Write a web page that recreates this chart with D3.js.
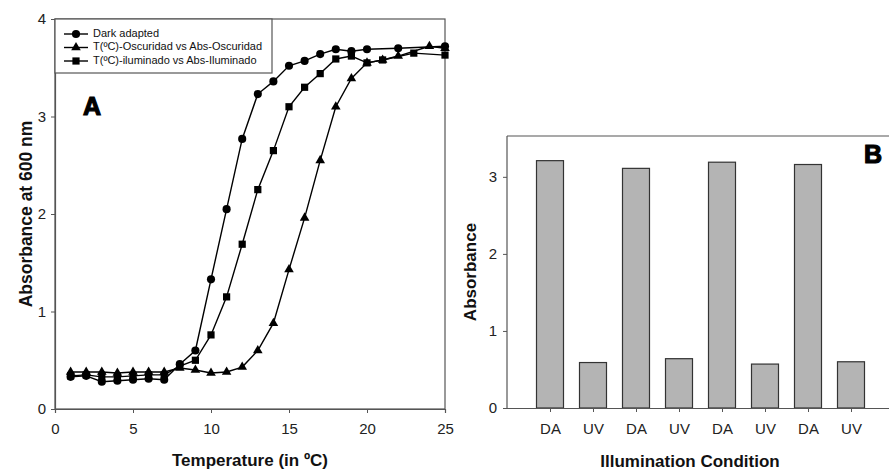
<!DOCTYPE html>
<html>
<head>
<meta charset="utf-8">
<script src="https://cdn.jsdelivr.net/npm/d3@7/dist/d3.min.js"></script>
<style>
  html, body { margin: 0; padding: 0; background: #fff; }
  svg { display: block; font-family: "Liberation Sans", Arial, sans-serif; }
</style>
</head>
<body>
<svg id="chart" width="889" height="470"></svg>
<script>
// ---------- Data: panel A ----------
const darkX = [1,2,3,4,5,6,7,8,9,10,11,12,13,14,15,16,17,18,19,20,22,25];
const darkY = [0.33,0.34,0.28,0.29,0.30,0.31,0.30,0.46,0.60,1.33,2.05,2.77,3.23,3.36,3.52,3.57,3.64,3.69,3.67,3.69,3.70,3.72];

const oscX = [1,2,3,4,5,6,7,8,9,10,11,12,13,14,15,16,17,18,19,20,21,22,24,25];
const oscY = [0.38,0.38,0.38,0.37,0.38,0.38,0.38,0.42,0.40,0.37,0.38,0.43,0.60,0.88,1.43,1.96,2.55,3.10,3.39,3.55,3.58,3.62,3.72,3.70];

const ilumX = [1,2,3,4,5,6,7,8,9,10,11,12,13,14,15,16,17,18,19,20,21,23,25];
const ilumY = [0.34,0.35,0.33,0.33,0.34,0.35,0.35,0.44,0.50,0.76,1.15,1.69,2.25,2.65,3.10,3.30,3.44,3.59,3.62,3.55,3.58,3.65,3.63];

const seriesNames = ["Dark adapted", "T(ºC)-Oscuridad vs Abs-Oscuridad", "T(ºC)-iluminado vs Abs-Iluminado"];
const seriesSymbols = ["circle", "triangle", "square"];
const xTicksA = [0,5,10,15,20,25];
const yTicksA = [0,1,2,3,4];

// ---------- Data: panel B ----------
const conditions = ["DA","UV","DA","UV","DA","UV","DA","UV"];
const absorbance = [3.21,0.59,3.11,0.64,3.19,0.57,3.16,0.60];
const yTicksB = [0,1,2,3];

const svg = d3.select("#chart");
const axisColor = "#555";

// ---------- Panel A ----------
const A = {left: 55, right: 445, top: 19, bottom: 409};
const xA = d3.scaleLinear().domain([0,25]).range([A.left, A.right]);
const yA = d3.scaleLinear().domain([0,4]).range([A.bottom, A.top]);

// frame
svg.append("rect").attr("x", A.left).attr("y", A.top)
  .attr("width", A.right - A.left).attr("height", A.bottom - A.top)
  .attr("fill", "none").attr("stroke", axisColor).attr("stroke-width", 1.2);

const gxA = svg.append("g").attr("transform", `translate(0,${A.bottom})`)
  .call(d3.axisBottom(xA).tickValues(xTicksA).tickSize(4).tickPadding(10).tickFormat(d3.format("d")));
const gyA = svg.append("g").attr("transform", `translate(${A.left},0)`)
  .call(d3.axisLeft(yA).tickValues(yTicksA).tickSize(4).tickPadding(5).tickFormat(d3.format("d")));
[gxA, gyA].forEach(g => {
  g.select(".domain").attr("stroke", axisColor).attr("stroke-width", 1.2);
  g.selectAll(".tick line").attr("stroke", axisColor);
  g.selectAll(".tick text").attr("font-size", 15).attr("fill", "#222")
    .attr("font-family", "Liberation Sans, Arial, sans-serif");
});

svg.append("text").attr("x", (A.left + A.right) / 2).attr("y", 466)
  .attr("text-anchor", "middle").attr("font-size", 17).attr("font-weight", "bold")
  .attr("fill", "#111").text("Temperature (in ºC)");
svg.append("text").attr("transform", `translate(27,${(A.top + A.bottom) / 2}) rotate(-90)`)
  .attr("text-anchor", "middle").attr("dominant-baseline", "middle")
  .attr("font-size", 17.5).attr("font-weight", "bold").attr("fill", "#111")
  .text("Absorbance at 600 nm");

const symType = {circle: d3.symbolCircle, triangle: d3.symbolTriangle, square: d3.symbolSquare};
const symSize = {circle: 52, triangle: 40, square: 52};

const seriesData = [
  darkX.map((x, i) => [x, darkY[i]]),
  oscX.map((x, i) => [x, oscY[i]]),
  ilumX.map((x, i) => [x, ilumY[i]])
];
const line = d3.line().x(d => xA(d[0])).y(d => yA(d[1]));

seriesData.forEach((data, k) => {
  svg.append("path").datum(data).attr("d", line)
    .attr("fill", "none").attr("stroke", "#000").attr("stroke-width", 1.4);
});
seriesData.forEach((data, k) => {
  const s = seriesSymbols[k];
  svg.append("g").selectAll("path").data(data).join("path")
    .attr("transform", d => `translate(${xA(d[0])},${yA(d[1])})`)
    .attr("d", d3.symbol().type(symType[s]).size(symSize[s]))
    .attr("fill", "#000");
});

// legend
const leg = svg.append("g");
leg.append("rect").attr("x", A.left).attr("y", A.top).attr("width", 217).attr("height", 54)
  .attr("fill", "#fff").attr("stroke", axisColor).attr("stroke-width", 1.2);
seriesNames.forEach((name, k) => {
  const yy = 34 + k * 13.5;
  leg.append("line").attr("x1", 64).attr("x2", 88).attr("y1", yy).attr("y2", yy)
    .attr("stroke", "#000").attr("stroke-width", 1.4);
  const s = seriesSymbols[k];
  leg.append("path").attr("transform", `translate(76,${yy})`)
    .attr("d", d3.symbol().type(symType[s]).size(symSize[s])).attr("fill", "#000");
  leg.append("text").attr("x", 93).attr("y", yy).attr("dominant-baseline", "middle")
    .attr("font-size", 11).attr("fill", "#111").text(name);
});

svg.append("text").attr("x", 92).attr("y", 108).attr("text-anchor", "middle")
  .attr("dominant-baseline", "middle").attr("font-size", 25).attr("font-weight", "bold")
  .attr("stroke", "#000").attr("stroke-width", 1.2).attr("fill", "#000").text("A");

// ---------- Panel B ----------
const B = {left: 507, right: 894, top: 136, bottom: 408};
const xB = d3.scaleLinear().domain([0, conditions.length + 1]).range([B.left, B.right]);
const yB = d3.scaleLinear().domain([0, 3.53]).range([B.bottom, B.top]);
const barW = 27;

svg.append("line").attr("x1", B.left).attr("x2", 889).attr("y1", B.top).attr("y2", B.top)
  .attr("stroke", axisColor).attr("stroke-width", 1.2);

svg.append("g").selectAll("rect").data(absorbance).join("rect")
  .attr("x", (d, i) => xB(i + 1) - barW / 2)
  .attr("y", d => yB(d))
  .attr("width", barW)
  .attr("height", d => yB(0) - yB(d))
  .attr("fill", "#b4b4b4").attr("stroke", "#333").attr("stroke-width", 1.2);

const gxB = svg.append("g").attr("transform", `translate(0,${B.bottom})`)
  .call(d3.axisBottom(xB).tickValues(d3.range(1, conditions.length + 1))
    .tickSize(4).tickPadding(11).tickFormat(d => conditions[d - 1]));
const gyB = svg.append("g").attr("transform", `translate(${B.left},0)`)
  .call(d3.axisLeft(yB).tickValues(yTicksB).tickSize(4).tickPadding(6).tickFormat(d3.format("d")));
gyB.select(".domain").attr("d", `M-0,${B.bottom}V${B.top}`);
[gxB, gyB].forEach(g => {
  g.select(".domain").attr("stroke", axisColor).attr("stroke-width", 1.2);
  g.selectAll(".tick line").attr("stroke", axisColor);
  g.selectAll(".tick text").attr("font-size", 15).attr("fill", "#222")
    .attr("font-family", "Liberation Sans, Arial, sans-serif");
});
gxB.select(".domain").attr("d", `M${B.left},0.5H889`);

svg.append("text").attr("x", 690).attr("y", 467).attr("text-anchor", "middle")
  .attr("font-size", 17).attr("font-weight", "bold").attr("fill", "#111")
  .text("Illumination Condition");
svg.append("text").attr("transform", `translate(472,${(B.top + B.bottom) / 2}) rotate(-90)`)
  .attr("text-anchor", "middle").attr("dominant-baseline", "middle")
  .attr("font-size", 17).attr("font-weight", "bold").attr("fill", "#111")
  .text("Absorbance");

svg.append("text").attr("x", 873).attr("y", 156).attr("text-anchor", "middle")
  .attr("dominant-baseline", "middle").attr("font-size", 25).attr("font-weight", "bold")
  .attr("stroke", "#000").attr("stroke-width", 1.2).attr("fill", "#000").text("B");
</script>
</body>
</html>
